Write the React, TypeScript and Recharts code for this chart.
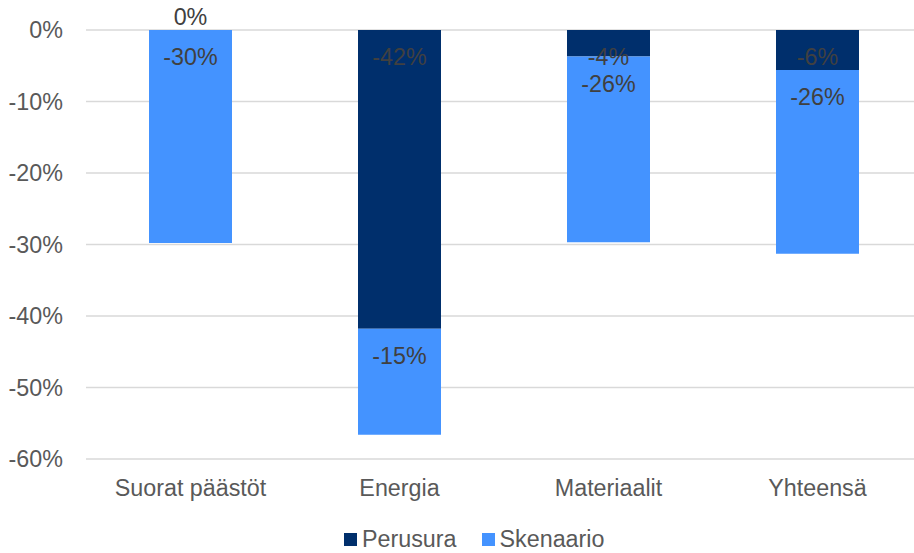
import { BarChart, Bar, XAxis, YAxis, CartesianGrid, Legend } from 'recharts';

const categories = ['Suorat päästöt', 'Energia', 'Materiaalit', 'Yhteensä'];
const perusura = [0, -41.8, -3.7, -5.6];
const skenaario = [-29.8, -14.8, -26.0, -25.7];
const yTicks = [0, -10, -20, -30, -40, -50, -60];

const DARK = '#002F6C';
const LIGHT = '#4493FF';
const AXIS_TEXT = '#595959';
const LABEL_TEXT = '#404040';
const FONT = '"Liberation Sans", Arial, sans-serif';
const FS = 23.3;

const data = categories.map((name, i) => ({
    name,
    perusura: perusura[i],
    skenaario: skenaario[i],
}));

const fmt = (v: number) => `${Math.round(v) || 0}%`;

const labelText = (x: number, y: number, txt: string, key?: string) => (
    <text key={key} x={x} y={y} dy="0.355em" textAnchor="middle" fill={LABEL_TEXT} fontSize={FS} fontFamily={FONT}>
        {txt}
    </text>
);

// zero-height segments get skipped, so read the value itself instead of the index
const PerusuraLabel = (props: any) => {
    const { x, y, width, height, value } = props;
    const v = Array.isArray(value) ? value[1] - value[0] : value;
    if (!v) return null;
    const top = Math.min(y, y + height);
    return labelText(x + width / 2, top + 27, fmt(v));
};

const SkenaarioLabel = (props: any) => {
    const { x, y, width, height, index } = props;
    const top = Math.min(y, y + height);
    const cx = x + width / 2;
    return (
        <g>
            {labelText(cx, top + 27, fmt(skenaario[index]), 'own')}
            {perusura[index] === 0 && labelText(cx, top - 13, fmt(0), 'zero')}
        </g>
    );
};

const legendItems = [
    { label: 'Perusura', color: DARK },
    { label: 'Skenaario', color: LIGHT },
];

const CustomLegend = () => (
    <div style={{ display: 'flex', alignItems: 'center', paddingLeft: 344, paddingTop: 29, fontFamily: FONT, fontSize: FS, lineHeight: 1, color: AXIS_TEXT }}>
        {legendItems.map((item) => (
            <div key={item.label} style={{ display: 'flex', alignItems: 'center', marginRight: 25 }}>
                <span style={{ width: 13, height: 13, background: item.color, marginRight: 5, display: 'inline-block' }}></span>
                <span>{item.label}</span>
            </div>
        ))}
    </div>
);

export default function App() {
    return (
        <div style={{ position: 'absolute', left: 0, top: 0, width: 914, height: 553, overflow: 'hidden', background: '#fff' }}>
            <BarChart
                width={922}
                height={553}
                data={data}
                margin={{ top: 30, right: 0, left: 0, bottom: 0 }}
                barSize={83}
            >
                <CartesianGrid vertical={false} stroke="#D9D9D9" strokeWidth={1.5} />
                <XAxis
                    dataKey="name"
                    axisLine={false}
                    tickLine={false}
                    tickSize={0}
                    tickMargin={20}
                    height={40}
                    interval={0}
                    tick={{ fill: AXIS_TEXT, fontSize: FS, fontFamily: FONT }}
                />
                <YAxis
                    domain={[-60, 0]}
                    ticks={yTicks}
                    axisLine={false}
                    tickLine={false}
                    tickSize={0}
                    tickMargin={23}
                    width={86}
                    tickFormatter={(v) => `${v}%`}
                    tick={{ fill: AXIS_TEXT, fontSize: FS, fontFamily: FONT }}
                />
                <Legend verticalAlign="bottom" content={<CustomLegend />} wrapperStyle={{ height: 54 }} />
                <Bar dataKey="perusura" stackId="a" fill={DARK} isAnimationActive={false} label={<PerusuraLabel />} />
                <Bar dataKey="skenaario" stackId="a" fill={LIGHT} isAnimationActive={false} label={<SkenaarioLabel />} />
            </BarChart>
        </div>
    );
}
